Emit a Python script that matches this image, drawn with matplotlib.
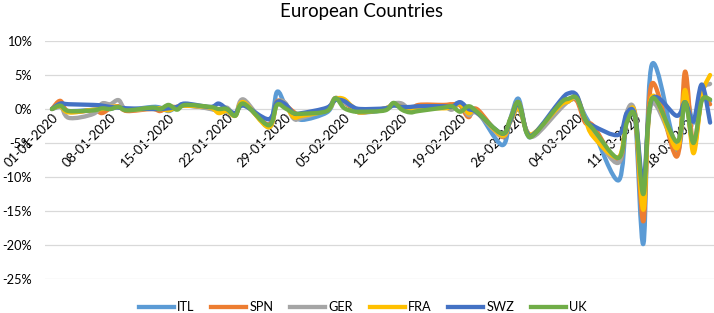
import numpy as np
import pandas as pd
import matplotlib
matplotlib.use("Agg")
import matplotlib.pyplot as plt
import matplotlib.dates as mdates
from matplotlib.path import Path
from matplotlib.patches import PathPatch
from matplotlib.lines import Line2D

plt.rcParams['font.family'] = ['Lato', 'DejaVu Sans']

# trading days shown in the chart
dates = pd.bdate_range("2020-01-01", "2020-03-20")

# daily returns in %
itl = [0, 0.3, -0.3, -0.1, 0.1, 0.0, 0.4, -0.1, 0.3, 0.2,
       -0.3, 0.3, 0.5, 0.1, -0.4, -0.4, -0.8, 0.9, -2.3, 2.5,
       0.6, -0.5, -1.6, -0.5, 1.4, 1.0, 0.2, -0.5, -0.1, 0.8,
       0.3, -0.3, 0.0, 0.3, 0.5, 0.9, -0.5, -0.2, -5.3, -1.5,
       1.5, -3.6, -3.6, 0.5, 1.2, 1.4, -1.0, -3.2, -10.5, -1.5,
       -1.5, -19.8, 6.5, -6.0, 2.0, -2.0, 1.5, 1.2]
spn = [0, 1.2, -0.4, -0.2, -0.6, 0.1, 0.4, -0.3, 0.0, -0.3,
       0.3, 0.3, 0.5, 0.2, -0.3, -0.2, -0.9, 0.8, -2.3, 1.1,
       0.6, -0.4, -1.0, 0.0, 1.6, 1.0, 0.2, -0.5, 0.0, 0.8,
       0.3, -0.2, 0.6, 0.6, 0.7, 0.5, -1.2, 0.0, -4.1, -1.6,
       1.0, -3.4, -3.6, 0.8, 1.3, 1.2, -2.0, -2.5, -7.8, -1.5,
       -0.9, -16.5, 3.7, -7.0, 5.5, -5.5, 1.5, 0.7]
ger = [0, 0.6, -1.3, -0.7, 0.8, 0.7, 1.3, -0.1, 0.1, 0.0,
       0.1, 0.3, 0.7, 0.0, -0.2, 0.2, -0.9, 1.4, -2.7, 0.9,
       0.9, -1.4, -1.3, 0.0, 1.6, 1.0, 0.4, -0.5, 0.1, 0.8,
       0.8, -0.1, 0.3, 0.3, -0.1, 0.8, -0.9, -0.6, -4.0, -1.9,
       0.0, -3.2, -3.9, 0.0, 1.1, 1.5, -1.5, -3.5, -7.9, -0.5,
       -0.6, -12.2, 0.8, -5.3, 2.3, -5.6, 2.4, 3.7]
fra = [0, 0.4, -0.5, -0.1, 0.0, 0.3, 0.3, -0.1, 0.1, 0.1,
       -0.2, 0.3, 0.5, 0.2, -0.6, -0.3, -1.0, 1.0, -2.7, 0.9,
       0.6, -1.2, -1.0, -0.2, 1.4, 1.5, 0.4, -0.5, 0.1, 0.6,
       0.3, 0.1, 0.2, 0.1, 0.3, 0.7, -0.6, -0.4, -3.9, -1.9,
       0.2, -3.3, -3.4, 0.5, 1.1, 1.8, -1.5, -4.1, -7.1, -1.5,
       -0.8, -14.8, 1.8, -5.8, 2.8, -6.5, 2.0, 5.0]
swz = [0, 0.8, 0.7, 0.6, 0.5, 0.3, 0.2, 0.1, 0.0, 0.0,
       0.1, 0.3, 0.8, 0.3, 0.8, 0.0, -0.6, 0.5, -1.5, 1.0,
       0.7, -0.6, -0.6, 0.2, 1.3, 1.2, 0.4, 0.0, 0.1, 0.5,
       0.3, 0.3, 0.4, 0.4, 0.3, 1.0, 0.0, -0.5, -3.6, -1.8,
       0.8, -3.4, -3.5, 1.2, 2.3, 2.0, -1.5, -2.5, -3.8, -0.6,
       -1.0, -10.8, 1.4, -1.0, 1.0, -1.8, 3.6, -2.0]
uk = [0, 0.5, -0.3, -0.2, 0.1, 0.0, 0.3, -0.2, 0.2, 0.0,
      0.6, -0.1, 0.6, 0.3, 0.0, 0.0, -1.0, 0.8, -2.4, 0.6,
      0.1, -0.6, -0.7, -0.3, 1.6, 0.2, -0.3, -0.4, -0.2, 0.9,
      -0.1, -0.5, -0.3, 0.2, 0.4, -0.4, 0.4, -0.4, -3.6, -1.5,
      1.0, -3.6, -3.6, 0.8, 1.5, 1.6, -1.5, -3.0, -7.2, -2.0,
      -1.2, -12.5, 1.5, -4.8, 1.0, -5.0, 1.2, 1.4]

names = ["ITL", "SPN", "GER", "FRA", "SWZ", "UK"]
series = [itl, spn, ger, fra, swz, uk]
colors = ["#5B9BD5", "#ED7D31", "#A5A5A5", "#FFC000", "#4472C4", "#70AD47"]


def smooth_path(x, y):
    # excel-like smoothed line: cubic bezier through each point
    pts = np.column_stack([x, y])
    ext = np.vstack([pts[0], pts, pts[-1]])
    verts = [pts[0]]
    codes = [Path.MOVETO]
    for i in range(len(pts) - 1):
        p0, p1, p2, p3 = ext[i], ext[i + 1], ext[i + 2], ext[i + 3]
        c1 = p1 + (p2 - p0) / 6
        c2 = p2 - (p3 - p1) / 6
        verts += [c1, c2, p2]
        codes += [Path.CURVE4] * 3
    return Path(verts, codes)


fig = plt.figure(figsize=(7.14, 3.13), dpi=100)
W, H = 714, 313
ax = fig.add_axes([45 / W, 1 - 279 / H, (714 - 45) / W, (279 - 41) / H])

xnum = mdates.date2num(dates)
base = mdates.date2num(pd.Timestamp("2020-01-01"))

for vals, c in zip(series, colors):
    p = smooth_path(xnum, np.array(vals, dtype=float))
    ax.add_patch(PathPatch(p, facecolor="none", edgecolor=c, lw=3.1,
                           capstyle="round", joinstyle="round"))

ax.set_xlim(base - 0.84, base + 79.47)
ax.set_ylim(-25, 10)
ax.set_yticks(np.arange(-25, 11, 5))
ax.set_yticklabels([f"{v}%" for v in range(-25, 11, 5)])
ax.grid(axis="y", color="#D9D9D9", lw=0.9)
ax.set_axisbelow(True)
for s in ax.spines.values():
    s.set_visible(False)
ax.spines["bottom"].set_position(("data", 0))

tick_dates = pd.date_range("2020-01-01", "2020-03-18", freq="7D")
ax.set_xticks(mdates.date2num(tick_dates))
ax.set_xticklabels([d.strftime("%d-%m-%Y") for d in tick_dates],
                   rotation=45, ha="right", va="top", rotation_mode="anchor",
                   fontsize=9.4, color="#000000")
ax.tick_params(axis="x", length=0, pad=2)
ax.tick_params(axis="y", length=0, pad=9.5, labelsize=9.2, labelcolor="#000000")

fig.text(362 / W, 1 - 12 / H, "European Countries", ha="center", va="center",
         fontsize=13.4, color="#000000")

handles = [Line2D([0], [0], color=c, lw=3.1) for c in colors]
fig.legend(handles, names, loc="center", bbox_to_anchor=(363 / W, 6 / H),
           ncol=6, frameon=False, fontsize=9.2, handlelength=2.75,
           handletextpad=0.25, columnspacing=1.3)

fig.savefig("out.png", dpi=100)
